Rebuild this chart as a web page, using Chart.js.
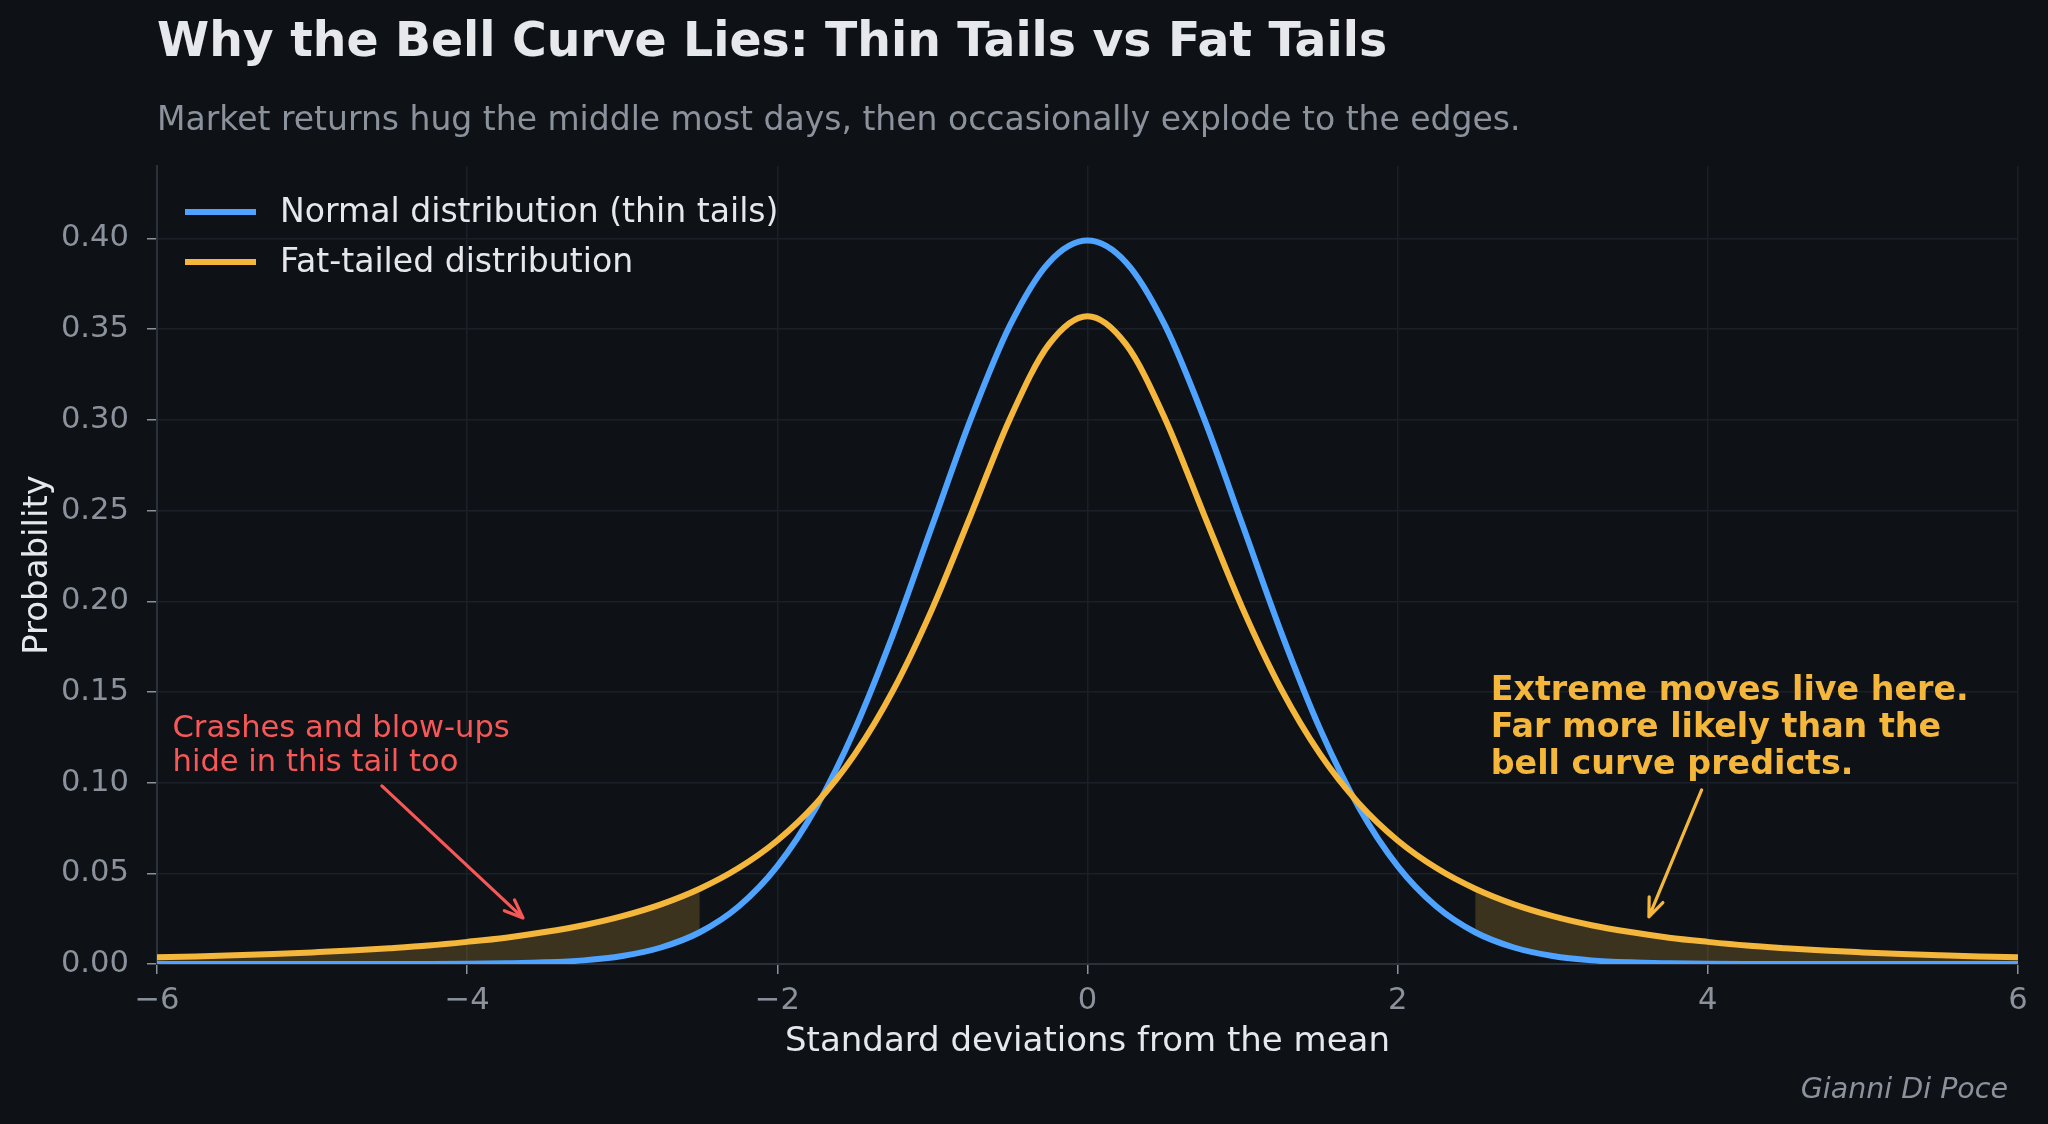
<!DOCTYPE html>
<html>
<head>
<meta charset="utf-8">
<title>Why the Bell Curve Lies</title>
<script src="https://cdn.jsdelivr.net/npm/chart.js@4.4.1/dist/chart.umd.min.js"></script>
<style>
  html, body { margin: 0; padding: 0; background: #0e1217; }
  #wrap { width: 2048px; height: 1124px; }
</style>
</head>
<body>
<div id="wrap"><canvas id="bell-chart" width="2048" height="1124"></canvas></div>
<script>
// Data (x in standard deviations, y = probability)
const xValues = [
  -6, -5.75, -5.5, -5.25, -5, -4.75, -4.5, -4.25, -4, -3.75, -3.5, -3.25, -3,
  -2.75, -2.5, -2.25, -2, -1.75, -1.5, -1.25, -1, -0.75, -0.5, -0.25, 0,
  0.25, 0.5, 0.75, 1, 1.25, 1.5, 1.75, 2, 2.25, 2.5, 2.75, 3,
  3.25, 3.5, 3.75, 4, 4.25, 4.5, 4.75, 5, 5.25, 5.5, 5.75, 6
];
const normalValues = [
  0.000, 0.000, 0.000, 0.000, 0.000, 0.000, 0.000, 0.000, 0.0001, 0.0004, 0.0009, 0.002, 0.0044,
  0.0091, 0.0175, 0.0317, 0.054, 0.0863, 0.1295, 0.1826, 0.242, 0.3011, 0.3521, 0.3867, 0.3989,
  0.3867, 0.3521, 0.3011, 0.242, 0.1826, 0.1295, 0.0863, 0.054, 0.0317, 0.0175, 0.0091, 0.0044,
  0.002, 0.0009, 0.0004, 0.0001, 0.000, 0.000, 0.000, 0.000, 0.000, 0.000, 0.000, 0.000
];
const fatValues = [
  0.0037, 0.0042, 0.0048, 0.0055, 0.0064, 0.0074, 0.0087, 0.0102, 0.0122, 0.0145, 0.0176, 0.0214, 0.0264,
  0.0329, 0.0415, 0.0529, 0.0681, 0.0885, 0.1157, 0.1514, 0.1961, 0.2481, 0.3007, 0.3415, 0.3572,
  0.3415, 0.3007, 0.2481, 0.1961, 0.1514, 0.1157, 0.0885, 0.0681, 0.0529, 0.0415, 0.0329, 0.0264,
  0.0214, 0.0176, 0.0145, 0.0122, 0.0102, 0.0087, 0.0074, 0.0064, 0.0055, 0.0048, 0.0042, 0.0037
];
const seriesLabels = ['Normal distribution (thin tails)', 'Fat-tailed distribution'];
const tailCut = 2.5;
const xTicks = [-6, -4, -2, 0, 2, 4, 6];
const yTicks = [0, 0.05, 0.10, 0.15, 0.20, 0.25, 0.30, 0.35, 0.40];

// Colours
const BG = '#0e1217';
const BLUE = '#4da3ff';
const ORANGE = '#f5b73b';
const RED = '#f85757';
const TEXT = '#e6e8eb';
const MUTED = '#8b929c';
const GRID = '#1b2028';
const SPINE = '#2b313a';
const FONT = "'DejaVu Sans', sans-serif";

// Annotations, anchored in data coordinates
const notes = [
  { lines: ['Crashes and blow-ups', 'hide in this tail too'], x: -5.9, y: 0.1253,
    color: RED, size: 30.6, weight: 'normal', lineStep: 34,
    arrowFrom: [-4.55, 0.0982], arrowTo: [-3.64, 0.0254] },
  { lines: ['Extreme moves live here.', 'Far more likely than the', 'bell curve predicts.'], x: 2.6, y: 0.1457,
    color: ORANGE, size: 33.3, weight: 'bold', lineStep: 37,
    arrowFrom: [3.96, 0.096], arrowTo: [3.62, 0.026] }
];

function toPoints(ys) {
  return xValues.map((x, i) => ({ x: x, y: ys[i] }));
}
function tail(ys, side) {
  return xValues
    .map((x, i) => ({ x: x, y: ys[i] }))
    .filter(p => side < 0 ? p.x <= -tailCut : p.x >= tailCut);
}
function fmtMinus(v, digits) {
  const s = Math.abs(v).toFixed(digits);
  return v < 0 ? '\u2212' + s : s;
}

// Draws title, subtitle, legend, annotations and credit line
const decorPlugin = {
  id: 'decor',
  beforeDraw(chart) {
    const ctx = chart.ctx;
    ctx.save();
    ctx.fillStyle = BG;
    ctx.fillRect(0, 0, chart.width, chart.height);
    ctx.restore();
  },
  afterDraw(chart) {
    const ctx = chart.ctx;
    const area = chart.chartArea;
    const xs = chart.scales.x;
    const ys = chart.scales.y;
    ctx.save();
    ctx.textBaseline = 'alphabetic';
    ctx.textAlign = 'left';

    // title + subtitle
    ctx.fillStyle = TEXT;
    ctx.font = 'bold 47.3px ' + FONT;
    ctx.fillText('Why the Bell Curve Lies: Thin Tails vs Fat Tails', area.left, 56);
    ctx.fillStyle = MUTED;
    ctx.font = '33px ' + FONT;
    ctx.fillText('Market returns hug the middle most days, then occasionally explode to the edges.', area.left, 130);

    // legend (main series only)
    const legendSets = [1, 0];
    legendSets.forEach((dsIndex, row) => {
      const ds = chart.data.datasets[dsIndex];
      const cy = 212 + row * 50;
      ctx.strokeStyle = ds.borderColor;
      ctx.lineWidth = 6;
      ctx.lineCap = 'butt';
      ctx.beginPath();
      ctx.moveTo(area.left + 28, cy);
      ctx.lineTo(area.left + 99, cy);
      ctx.stroke();
      ctx.fillStyle = TEXT;
      ctx.font = '33.1px ' + FONT;
      ctx.textBaseline = 'middle';
      ctx.fillText(ds.label, area.left + 123, cy + 1);
    });
    ctx.textBaseline = 'alphabetic';

    // annotations
    notes.forEach(n => {
      ctx.fillStyle = n.color;
      ctx.font = n.weight + ' ' + n.size + 'px ' + FONT;
      const px = xs.getPixelForValue(n.x);
      const py = ys.getPixelForValue(n.y);
      n.lines.forEach((line, i) => ctx.fillText(line, px, py + i * n.lineStep));

      const x0 = xs.getPixelForValue(n.arrowFrom[0]);
      const y0 = ys.getPixelForValue(n.arrowFrom[1]);
      const x1 = xs.getPixelForValue(n.arrowTo[0]);
      const y1 = ys.getPixelForValue(n.arrowTo[1]);
      const ang = Math.atan2(y1 - y0, x1 - x0);
      const head = 20;
      const spread = 0.38;
      ctx.strokeStyle = n.color;
      ctx.lineWidth = 3.2;
      ctx.lineCap = 'round';
      ctx.lineJoin = 'round';
      ctx.beginPath();
      ctx.moveTo(x0, y0);
      ctx.lineTo(x1, y1);
      ctx.moveTo(x1 - head * Math.cos(ang - spread), y1 - head * Math.sin(ang - spread));
      ctx.lineTo(x1, y1);
      ctx.lineTo(x1 - head * Math.cos(ang + spread), y1 - head * Math.sin(ang + spread));
      ctx.stroke();
    });

    // credit
    ctx.fillStyle = MUTED;
    ctx.font = 'italic 28.5px ' + FONT;
    ctx.textAlign = 'right';
    ctx.fillText('Gianni Di Poce', 2008, 1098);
    ctx.restore();
  }
};

const ctx = document.getElementById('bell-chart').getContext('2d');
const bellChart = new Chart(ctx, {
  type: 'line',
  data: {
    datasets: [
      {
        label: seriesLabels[1],
        data: toPoints(fatValues),
        borderColor: ORANGE,
        borderWidth: 6,
        pointRadius: 0,
        fill: false,
        cubicInterpolationMode: 'monotone'
      },
      {
        label: seriesLabels[0],
        data: toPoints(normalValues),
        borderColor: BLUE,
        borderWidth: 6,
        pointRadius: 0,
        fill: false,
        cubicInterpolationMode: 'monotone'
      },
      // shaded tails between the two curves
      {
        label: 'left tail',
        data: tail(fatValues, -1),
        borderColor: 'rgba(245, 183, 59, 0.25)',
        borderWidth: 0,
        backgroundColor: 'rgba(245, 183, 59, 0.2)',
        pointRadius: 0,
        fill: 3,
        cubicInterpolationMode: 'monotone'
      },
      {
        label: 'left base',
        data: tail(normalValues, -1),
        borderWidth: 0,
        pointRadius: 0,
        fill: false,
        cubicInterpolationMode: 'monotone'
      },
      {
        label: 'right tail',
        data: tail(fatValues, 1),
        borderColor: 'rgba(245, 183, 59, 0.25)',
        borderWidth: 0,
        backgroundColor: 'rgba(245, 183, 59, 0.2)',
        pointRadius: 0,
        fill: 5,
        cubicInterpolationMode: 'monotone'
      },
      {
        label: 'right base',
        data: tail(normalValues, 1),
        borderWidth: 0,
        pointRadius: 0,
        fill: false,
        cubicInterpolationMode: 'monotone'
      }
    ]
  },
  options: {
    responsive: false,
    animation: false,
    devicePixelRatio: 1,
    layout: { padding: { left: 0, right: 30, top: 166, bottom: 60 } },
    plugins: {
      legend: { display: false },
      tooltip: { enabled: false },
      title: { display: false }
    },
    scales: {
      x: {
        type: 'linear',
        min: -6,
        max: 6,
        afterBuildTicks: (scale) => { scale.ticks = xTicks.map(v => ({ value: v })); },
        afterFit: (scale) => { scale.height = 100; },
        grid: { color: GRID, lineWidth: 1.5, tickColor: MUTED, tickLength: 10, drawTicks: true },
        border: { display: true, color: SPINE, width: 2 },
        ticks: {
          color: MUTED,
          padding: 9,
          font: { family: FONT, size: 30.6 },
          callback: (v) => fmtMinus(v, 0)
        },
        title: {
          display: true,
          text: 'Standard deviations from the mean',
          color: TEXT,
          font: { family: FONT, size: 34 },
          padding: { top: 0, bottom: 1 }
        }
      },
      y: {
        min: 0,
        max: 0.44,
        afterBuildTicks: (scale) => { scale.ticks = yTicks.map(v => ({ value: v })); },
        afterFit: (scale) => { scale.width = 157; },
        grid: { color: GRID, lineWidth: 1.5, tickColor: MUTED, tickLength: 10, drawTicks: true },
        border: { display: true, color: SPINE, width: 2 },
        ticks: {
          color: MUTED,
          padding: 18,
          font: { family: FONT, size: 30.6 },
          callback: (v) => v.toFixed(2)
        },
        title: {
          display: true,
          text: 'Probability',
          color: TEXT,
          font: { family: FONT, size: 34 },
          padding: { top: 18, bottom: 0 }
        }
      }
    }
  },
  plugins: [decorPlugin]
});
</script>
</body>
</html>
